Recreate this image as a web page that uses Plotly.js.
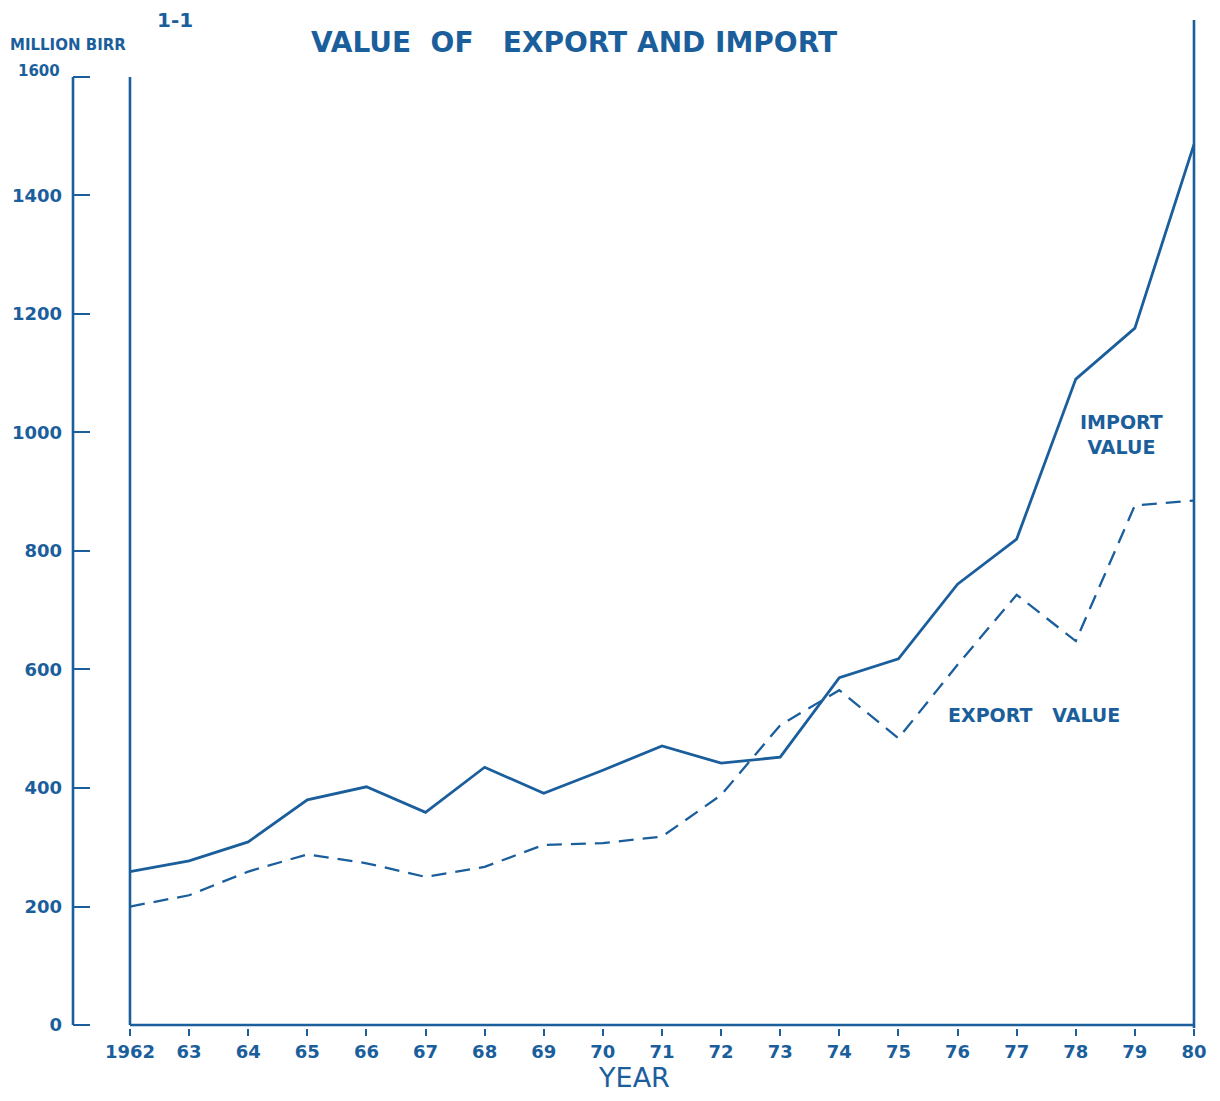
<!DOCTYPE html>
<html>
<head>
<meta charset="utf-8">
<script src="https://cdn.plot.ly/plotly-3.0.1.min.js"></script>
<style>html,body{margin:0;padding:0;background:#fff;}#chart{width:1220px;height:1101px;}</style>
</head>
<body>
<div id="chart"></div>
<script>
// Data (million Birr)
const years = [1962,1963,1964,1965,1966,1967,1968,1969,1970,1971,1972,1973,1974,1975,1976,1977,1978,1979,1980];
const yearLabels = ['1962','63','64','65','66','67','68','69','70','71','72','73','74','75','76','77','78','79','80'];
const importValue = [259,277,309,380,402,359,435,391,430,471,442,452,586,618,744,820,1090,1176,1486];
const exportValue = [200,219,259,288,273,250,267,304,307,318,388,506,565,484,608,726,648,877,885];
const yTicks = [0,200,400,600,800,1000,1200,1400,1600];
const yTickLabels = ['0','200','400','600','800','1000','1200','1400',''];

const INK = '#1b5e9c';
const FONT = 'DejaVu Sans, Liberation Sans, sans-serif';

const traces = [
  {x: years, y: importValue, type: 'scatter', mode: 'lines', name: 'IMPORT VALUE',
   line: {color: INK, width: 2.8}},
  {x: years, y: exportValue, type: 'scatter', mode: 'lines', name: 'EXPORT VALUE',
   line: {color: INK, width: 2.3, dash: '15px,9px'}}
];

const layout = {
  width: 1220, height: 1101,
  margin: {l: 73, r: 24, t: 20, b: 73},
  paper_bgcolor: '#ffffff', plot_bgcolor: '#ffffff',
  showlegend: false,
  font: {family: FONT, color: INK},
  title: {text: 'VALUE  OF &nbsp; EXPORT AND IMPORT', x: 0.4705, xanchor: 'center', y: 0.962, yanchor: 'middle',
          font: {family: FONT, size: 28, color: INK, weight: 'bold'}},
  xaxis: {range: [1961.036, 1980.034], tickmode: 'array', tickvals: years, ticktext: yearLabels,
          ticks: 'outside', ticklen: 7, tickwidth: 2, tickcolor: INK,
          showgrid: false, zeroline: false, showline: false,
          tickfont: {family: FONT, size: 18, color: INK, weight: 'bold'},
          ticklabelstandoff: 0,
          title: {text: 'YEAR', standoff: 6, font: {family: FONT, size: 27, color: INK}}},
  xaxis2: {range: [1961.036, 1980.034], overlaying: 'x', anchor: 'y', side: 'bottom',
           tickmode: 'array', tickvals: years, ticktext: years.map(() => ''),
           ticks: 'inside', ticklen: 7, tickwidth: 2, tickcolor: INK,
           showgrid: false, zeroline: false, showline: false, showticklabels: false},
  yaxis: {range: [-5, 1696], tickmode: 'array', tickvals: yTicks, ticktext: yTickLabels,
          ticks: 'inside', ticklen: 17, tickwidth: 2, tickcolor: INK,
          showgrid: false, zeroline: false, showline: false,
          ticklabelstandoff: 10,
          tickfont: {family: FONT, size: 18, color: INK, weight: 'bold'}},
  shapes: [
    {type: 'line', xref: 'paper', x0: 0, x1: 0, yref: 'y', y0: 0, y1: 1600, line: {color: INK, width: 2.6}},
    {type: 'line', xref: 'x', x0: 1962, x1: 1962, yref: 'y', y0: 0, y1: 1600, line: {color: INK, width: 2.6}},
    {type: 'line', xref: 'x', x0: 1980, x1: 1980, yref: 'paper', y0: 0, y1: 1, line: {color: INK, width: 2.6}},
    {type: 'line', xref: 'x', x0: 1962, x1: 1980, yref: 'y', y0: 0, y1: 0, line: {color: INK, width: 2.6}}
  ],
  annotations: [
    {text: 'MILLION BIRR', xref: 'paper', yref: 'paper', x: -0.058, y: 0.975, xanchor: 'left', yanchor: 'middle',
     showarrow: false, font: {family: FONT, size: 15, color: INK, weight: 'bold'}},
    {text: '1600', xref: 'paper', yref: 'y', x: -0.01, y: 1610, xanchor: 'right', yanchor: 'middle',
     showarrow: false, font: {family: FONT, size: 15, color: INK, weight: 'bold'}},
    {text: '1-1', xref: 'paper', yref: 'paper', x: 0.091, y: 1.0, xanchor: 'center', yanchor: 'middle',
     showarrow: false, font: {family: FONT, size: 20, color: INK, weight: 'bold'}},
    {text: 'IMPORT<br>VALUE', xref: 'x', yref: 'y', x: 1978.77, y: 997, xanchor: 'center', yanchor: 'middle',
     align: 'center', showarrow: false, font: {family: FONT, size: 19, color: INK, weight: 'bold'}},
    {text: 'EXPORT &nbsp; VALUE', xref: 'x', yref: 'y', x: 1977.29, y: 523, xanchor: 'center', yanchor: 'middle',
     showarrow: false, font: {family: FONT, size: 19, color: INK, weight: 'bold'}}
  ]
};

Plotly.newPlot('chart', traces, layout, {displayModeBar: false, staticPlot: true});
</script>
</body>
</html>
